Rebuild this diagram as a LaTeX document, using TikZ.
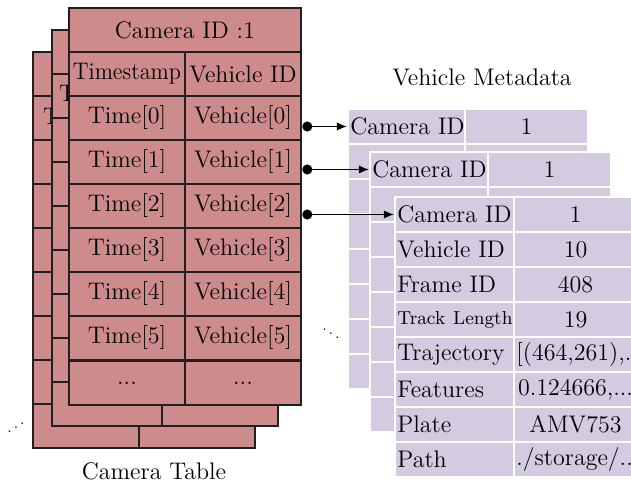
\documentclass[tikz,border=0pt]{standalone}
\usepackage{graphicx}
\usetikzlibrary{arrows.meta}
\definecolor{pinkfill}{RGB}{206,139,139}
\definecolor{lilac}{RGB}{211,204,224}
\definecolor{edgecol}{RGB}{35,31,32}
\begin{document}
\begin{tikzpicture}[x=0.5pt,y=-0.5pt,
  font=\fontsize{12}{14}\selectfont,
  pcell/.style={draw=edgecol, fill=pinkfill, line width=1.3pt, inner sep=0pt, minimum height=22pt},
  lcell/.style={draw=white, fill=lilac, line width=1.2pt, inner ysep=0pt, inner xsep=1.2pt, minimum height=17.5pt},
  rl/.style={lcell, text width=#1, align=left},
  rr/.style={lcell, text width=#1, align=center},
  frag/.style={anchor=base west, inner sep=0pt},
  conn/.style={line width=0.6pt, {Circle[length=5pt]}-{Latex[length=5pt,width=4.2pt]}},
  ttl/.style={anchor=base, inner sep=0pt}
]
\useasboundingbox (0,0) rectangle (631,485);

% ---------- Camera tables (back) ----------
\node[pcell, minimum width=111pt] (bh) at (144,74) {};
\foreach \k in {0,...,7}{
  \node[pcell, minimum width=53pt] (bl\k) at (86,{118+44*\k}) {};
  \node[pcell, minimum width=58pt] (br\k) at (197,{118+44*\k}) {};
}
\node[frag] (bts) at (43,125) {\scalebox{0.93}[1]{Timestamp}};
\node at (bl7) {...};
\node at (br7) {...};

% ---------- Camera tables (middle) ----------
\node[pcell, minimum width=113pt] (mh) at (165,52) {};
\foreach \k in {0,...,7}{
  \node[pcell, minimum width=55pt] (ml\k) at (107,{96+44*\k}) {};
  \node[pcell, minimum width=58pt] (mr\k) at (220,{96+44*\k}) {};
}
\node[frag] (mts) at (59,102) {\scalebox{0.93}[1]{Timestamp}};
\node at (ml7) {...};
\node at (mr7) {...};

% ---------- Camera table (front) ----------
\node[pcell, minimum width=116pt] (fh) at (185,30) {Camera ID :1};
\node[pcell, minimum width=58pt] (fts) at (127,74) {\scalebox{0.93}[1]{Timestamp}};
\node[pcell, minimum width=58pt] (fvid) at (243,74) {Vehicle ID};
\foreach \k in {0,...,5}{
  \node[pcell, minimum width=58pt] (ft\k) at (127,{118+44*\k}) {Time[\k]};
  \node[pcell, minimum width=58pt] (fv\k) at (243,{118+44*\k}) {Vehicle[\k]};
}
\node[pcell, minimum width=58pt] (ftd) at (127,383) {...};
\node[pcell, minimum width=58pt] (fvd) at (243,383) {...};

\node[ttl] (camtitle) at (154,480) {Camera Table};
\node[ttl] (ldots) at (16,434) {\reflectbox{\scalebox{0.7}{$\ddots$}}};

% ---------- Vehicle metadata (back) ----------
\foreach \k in {0,...,7}{
  \node[rl=56.1pt] (al\k) at (406.5,{126.5+35*\k}) {\strut};
  \node[rr=59.1pt] (ar\k) at (526.5,{126.5+35*\k}) {\strut};
}
\node[rl=56.1pt] (acam) at (406.5,126.5) {\mbox{Camera ID}};
\node[rr=59.1pt] (aval) at (526.5,126.5) {1};

% ---------- Vehicle metadata (middle) ----------
\foreach \k in {0,...,7}{
  \node[rl=56.6pt] (bl\k) at (429,{169.5+35*\k}) {\strut};
  \node[rr=59.1pt] (br\k) at (549.5,{169.5+35*\k}) {\strut};
}
\node[rl=56.6pt] (bcam) at (429,169.5) {\mbox{Camera ID}};
\node[rr=59.1pt] (bval) at (549.5,169.5) {1};

% ---------- Vehicle metadata (front) ----------
\node[rl=57.1pt] (ccam) at (454.5,214.5) {\mbox{Camera ID}};
\node[rr=59.1pt] (c1) at (575.5,214.5) {1};
\node[rl=57.1pt] (cveh) at (454.5,249.5) {\mbox{Vehicle ID}};
\node[rr=59.1pt] (c2) at (575.5,249.5) {10};
\node[rl=57.1pt] (cfr) at (454.5,284.5) {\mbox{Frame ID}};
\node[rr=59.1pt] (c3) at (575.5,284.5) {408};
\node[rl=57.1pt] (ctl) at (454.5,319.5) {\mbox{\fontsize{9.4}{11}\selectfont Track Length}};
\node[rr=59.1pt] (c4) at (575.5,319.5) {19};
\node[rl=57.1pt] (ctr) at (454.5,354.5) {Trajectory};
\node[rr=59.1pt] (c5) at (575.5,354.5) {\mbox{[(464,261),...]}};
\node[rl=57.1pt] (cfe) at (454.5,389.5) {Features};
\node[rr=59.1pt] (c6) at (575.5,389.5) {\mbox{0.124666,...}};
\node[rl=57.1pt] (cpl) at (454.5,424.5) {Plate};
\node[rr=59.1pt] (c7) at (575.5,424.5) {AMV753};
\node[rl=57.1pt] (cpa) at (454.5,459.5) {Path};
\node[rr=59.1pt] (c8) at (575.5,459.5) {\mbox{./storage/...}};

\node[ttl] (vmtitle) at (482,86) {Vehicle Metadata};
\node[ttl] (rdots) at (331,340) {\scalebox{0.7}{$\ddots$}};

% ---------- connectors ----------
\draw[conn] (fv0.east |- acam.west) -- (acam.west);
\draw[conn] (fv1.east |- bcam.west) -- (bcam.west);
\draw[conn] (fv2.east |- ccam.west) -- (ccam.west);
\end{tikzpicture}
\end{document}
